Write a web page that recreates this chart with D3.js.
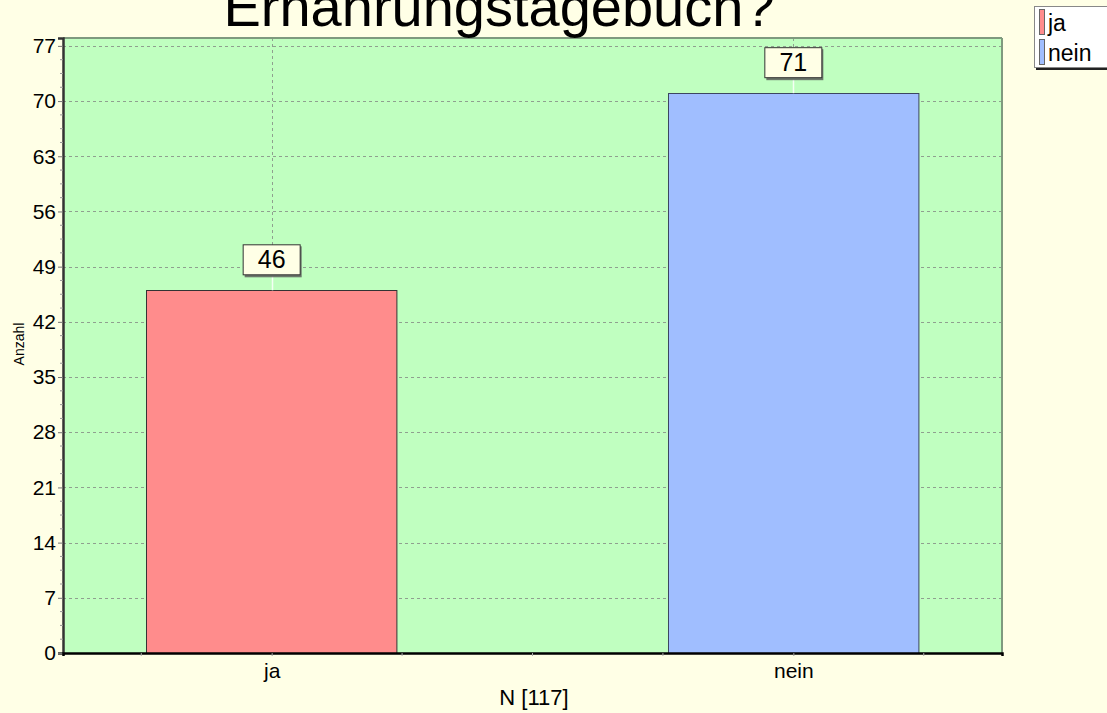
<!DOCTYPE html>
<html><head><meta charset="utf-8">
<script src="https://cdn.jsdelivr.net/npm/d3@7"></script>
<style>
html,body{margin:0;padding:0;background:#FFFFE6;}
text{font-family:"Liberation Sans",Arial,sans-serif;}
</style></head>
<body>
<svg id="c" width="1107" height="713"></svg>
<script>
const categories = ["ja", "nein"];
const values = [46, 71];
const colors = ["#FF8C8C", "#A0BEFF"];
const yTicks = [0, 7, 14, 21, 28, 35, 42, 49, 56, 63, 70, 77];
const title = "Ernährungstagebuch?";
const yTitle = "Anzahl";
const xTitle = "N [117]";

const svg = d3.select("#c");
const W = 1107, H = 713;
svg.append("rect").attr("width", W).attr("height", H).attr("fill", "#FFFFE6");

const m = {l: 63, r: 1002, t: 38, b: 653};
const x = d3.scaleLinear().domain([-0.4, 1.4]).range([m.l, m.r]);
const y = d3.scaleLinear().domain([0, 78]).range([m.b, m.t]);
const half = 0.24;

// plot bg
svg.append("rect").attr("x", m.l).attr("y", m.t).attr("width", m.r - m.l).attr("height", m.b - m.t).attr("fill", "#C0FFC0");

// grid
const g = svg.append("g");
g.selectAll("line.hg").data(yTicks.filter(d => d > 0)).join("line")
  .attr("x1", m.l).attr("x2", m.r).attr("y1", d => Math.round(y(d)) + 0.5).attr("y2", d => Math.round(y(d)) + 0.5)
  .attr("stroke", "#8FA08F").attr("stroke-dasharray", "3,3").attr("stroke-width", 1);
g.selectAll("line.vg").data(categories.map((c, i) => i)).join("line")
  .attr("x1", d => Math.round(x(d)) + 0.5).attr("x2", d => Math.round(x(d)) + 0.5).attr("y1", m.t).attr("y2", m.b)
  .attr("stroke", "#8FA08F").attr("stroke-dasharray", "3,3").attr("stroke-width", 1);

// bars
svg.selectAll("rect.bar").data(values).join("rect")
  .attr("x", (d, i) => Math.round(x(i - half)) + 0.5)
  .attr("width", x(half) - x(-half))
  .attr("y", d => Math.round(y(d)) + 0.5)
  .attr("height", d => y(0) - Math.round(y(d)))
  .attr("fill", (d, i) => colors[i])
  .attr("stroke", (d, i) => i === 0 ? "#333" : "#3c4660").attr("stroke-width", 1);

// plot border top/right
svg.append("line").attr("x1", m.l).attr("x2", m.r).attr("y1", m.t).attr("y2", m.t).attr("stroke", "#7F9A7F").attr("stroke-width", 2);
svg.append("line").attr("x1", m.r).attr("x2", m.r).attr("y1", m.t).attr("y2", m.b).attr("stroke", "#7F9A7F").attr("stroke-width", 2);

// y axis
const yAxis = d3.axisLeft(y).tickValues(yTicks).tickSize(5).tickFormat(d3.format("d"));
const ya = svg.append("g").attr("transform", `translate(${m.l},0)`).call(yAxis);
ya.select(".domain").attr("stroke", "#333").attr("stroke-width", 2.5);
ya.selectAll(".tick line").attr("stroke", "#777");
ya.selectAll(".tick text").attr("font-size", 21).attr("fill", "#000").attr("x", -7).attr("font-family", "Liberation Sans, Arial, sans-serif");
// y minor ticks
const yMinor = d3.range(0, 78, 1.75).filter(v => !yTicks.includes(v));
svg.selectAll("line.ym").data(yMinor).join("line")
  .attr("x1", m.l - 3).attr("x2", m.l).attr("y1", d => y(d)).attr("y2", d => y(d)).attr("stroke", "#999");

// x axis
const xAxis = d3.axisBottom(x).tickValues(categories.map((c, i) => i)).tickSize(3).tickFormat(i => categories[i]);
const xa = svg.append("g").attr("transform", `translate(0,${m.b})`).call(xAxis);
xa.select(".domain").attr("stroke", "#000").attr("stroke-width", 2.5);
xa.selectAll(".tick line").attr("stroke", "#999");
xa.selectAll(".tick text").attr("font-size", 21).attr("fill", "#000").attr("dy", 0).attr("y", 25).attr("font-family", "Liberation Sans, Arial, sans-serif");
const xMinor = d3.range(-0.25, 1.4, 0.25).filter(v => Math.abs(v) > 1e-6 && Math.abs(v - 1) > 1e-6);
svg.selectAll("line.xm").data(xMinor).join("line")
  .attr("x1", d => x(d)).attr("x2", d => x(d)).attr("y1", m.b).attr("y2", m.b + 3).attr("stroke", "#aaa");

// value labels
const lab = svg.selectAll("g.lab").data(values).join("g").attr("class", "lab");
lab.append("line")
  .attr("x1", (d, i) => Math.round(x(i)) + 0.5).attr("x2", (d, i) => Math.round(x(i)) + 0.5)
  .attr("y1", d => y(d) - 14).attr("y2", d => y(d)).attr("stroke", "#F4FFF4").attr("stroke-width", 1.5);
lab.append("rect")
  .attr("x", (d, i) => x(i) - 27).attr("y", d => y(d) - 44).attr("width", 57).attr("height", 31)
  .attr("fill", "#555").attr("opacity", 0.8);
lab.append("rect")
  .attr("x", (d, i) => x(i) - 29 + 0.5).attr("y", d => y(d) - 46 + 0.5).attr("width", 57).attr("height", 30)
  .attr("fill", "#FFFFE6").attr("stroke", "#333").attr("stroke-width", 1);
lab.append("text")
  .attr("x", (d, i) => x(i)).attr("y", d => y(d) - 22)
  .attr("text-anchor", "middle").attr("font-size", 25).attr("fill", "#000").text(d => d);

// titles
svg.append("text").attr("x", 499).attr("y", 26).attr("text-anchor", "middle").attr("font-size", 56).attr("fill", "#000").text(title);
svg.append("text").attr("transform", "translate(24,344) rotate(-90)").attr("text-anchor", "middle").attr("font-size", 14).attr("fill", "#000").text(yTitle);
svg.append("text").attr("x", 534).attr("y", 705).attr("text-anchor", "middle").attr("font-size", 22).attr("fill", "#000").text(xTitle);

// legend
const lg = svg.append("g");
lg.append("rect").attr("x", 1036).attr("y", 9).attr("width", 80).attr("height", 61).attr("fill", "#222");
lg.append("rect").attr("x", 1034.5).attr("y", 6.5).attr("width", 80).attr("height", 61).attr("fill", "#fff").attr("stroke", "#888");
lg.selectAll("rect.sw").data(categories).join("rect")
  .attr("x", 1039.5).attr("y", (d, i) => 9.5 + i * 30).attr("width", 5).attr("height", 25)
  .attr("fill", (d, i) => colors[i]).attr("stroke", "#666").attr("stroke-width", 1);
lg.selectAll("text.lt").data(categories).join("text")
  .attr("x", 1048).attr("y", (d, i) => 31 + i * 30).attr("font-size", 23).attr("fill", "#000").text(d => d);
</script>
</body></html>
